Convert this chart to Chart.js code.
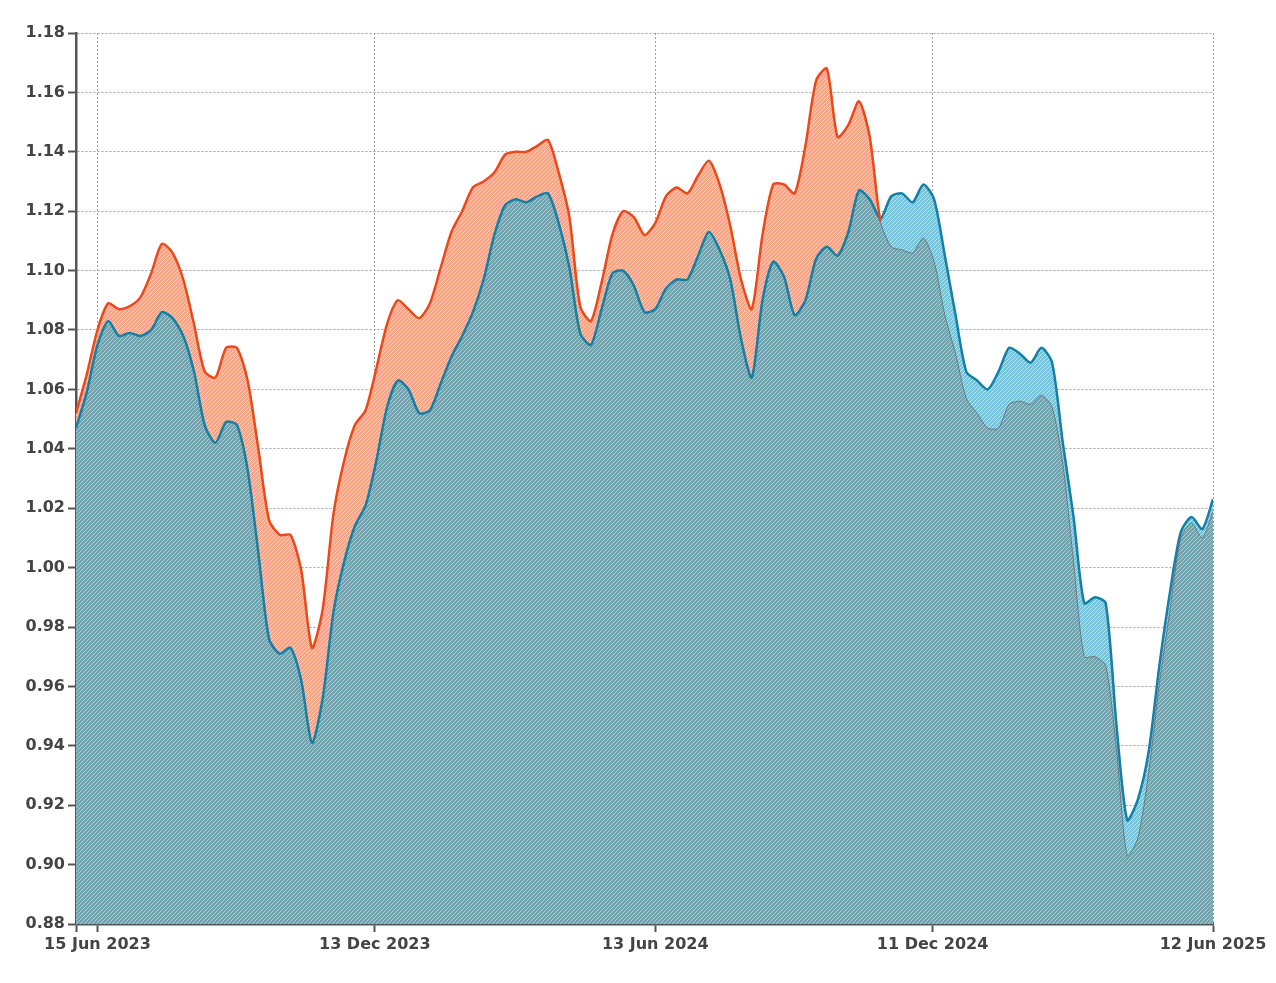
<!DOCTYPE html>
<html>
<head>
<meta charset="utf-8">
<script src="https://cdn.jsdelivr.net/npm/chart.js@4.4.1/dist/chart.umd.min.js"></script>
<style>
  body { margin: 0; background: #fff; }
  #wrap { width: 1276px; height: 983px; position: relative; }
</style>
</head>
<body>
<div id="wrap"><canvas id="myChart"></canvas></div>
<script>
// weekly points, first one on 1 Jun 2023
var startDate = '2023-06-01';
var stepDays = 7;

// orange series
var seriesA = [
  1.052, 1.065, 1.080, 1.089, 1.087, 1.088, 1.091, 1.099, 1.109, 1.106,
  1.097, 1.082, 1.066, 1.064, 1.074, 1.074, 1.063, 1.040, 1.016, 1.011,
  1.011, 0.999, 0.973, 0.986, 1.018, 1.036, 1.048, 1.053, 1.067, 1.082,
  1.090, 1.087, 1.084, 1.089, 1.101, 1.113, 1.120, 1.128, 1.130, 1.133,
  1.139, 1.140, 1.140, 1.142, 1.144, 1.133, 1.118, 1.088, 1.083, 1.096,
  1.112, 1.120, 1.118, 1.112, 1.116, 1.125, 1.128, 1.126, 1.132, 1.137,
  1.129, 1.115, 1.097, 1.087, 1.112, 1.129, 1.129, 1.126, 1.142, 1.164,
  1.168, 1.145, 1.149, 1.157, 1.145, 1.1165, 1.108, 1.107, 1.106, 1.111,
  1.103, 1.085, 1.072, 1.057, 1.052, 1.047, 1.047, 1.055, 1.056, 1.055,
  1.058, 1.054, 1.035, 1.002, 0.970, 0.970, 0.967, 0.939, 0.903, 0.909,
  0.931, 0.961, 0.986, 1.010, 1.015, 1.010, 1.019
];

// blue series
var seriesB = [
  1.047, 1.059, 1.075, 1.083, 1.078, 1.079, 1.078, 1.080, 1.086, 1.084,
  1.078, 1.066, 1.048, 1.042, 1.049, 1.048, 1.033, 1.005, 0.976, 0.971,
  0.973, 0.962, 0.941, 0.956, 0.985, 1.002, 1.014, 1.021, 1.036, 1.054,
  1.063, 1.060, 1.052, 1.053, 1.062, 1.071, 1.078, 1.086, 1.097, 1.112,
  1.122, 1.124, 1.123, 1.125, 1.126, 1.116, 1.101, 1.079, 1.075, 1.087,
  1.099, 1.100, 1.095, 1.086, 1.087, 1.094, 1.097, 1.097, 1.105, 1.113,
  1.107, 1.097, 1.077, 1.064, 1.090, 1.103, 1.098, 1.085, 1.090, 1.104,
  1.108, 1.105, 1.113, 1.127, 1.124, 1.1175, 1.125, 1.126, 1.123, 1.129,
  1.124, 1.105, 1.085, 1.066, 1.063, 1.060, 1.066, 1.074, 1.072, 1.069,
  1.074, 1.069, 1.042, 1.017, 0.988, 0.990, 0.988, 0.947, 0.915, 0.922,
  0.938, 0.967, 0.992, 1.012, 1.017, 1.013, 1.023
];

// x ticks (days after startDate) and their labels
var tickDays = [0, 14, 195, 378, 559, 742];
var tickLabels = ['', '15 Jun 2023', '13 Dec 2023', '13 Jun 2024', '11 Dec 2024', '12 Jun 2025'];

var yMin = 0.88, yMax = 1.18, yStep = 0.02;

var orange = '#e8491d';
var blue = '#177fa6';

function hatch(ctx, base, stripe) {
    var t = document.createElement('canvas');
    t.width = 4; t.height = 4;
    var c = t.getContext('2d');
    c.fillStyle = base;
    c.fillRect(0, 0, 4, 4);
    c.strokeStyle = stripe;
    c.lineWidth = 1;
    c.beginPath();
    c.moveTo(0, 4); c.lineTo(4, 0);
    c.moveTo(-1, 1); c.lineTo(1, -1);
    c.moveTo(3, 5); c.lineTo(5, 3);
    c.stroke();
    return ctx.createPattern(t, 'repeat');
}

var ctx = document.getElementById('myChart').getContext('2d');
var tealFill = hatch(ctx, '#72a3af', '#aacbd3');
var orangeFill = hatch(ctx, '#f4a689', '#fbd0c0');
var lightBlueFill = hatch(ctx, '#78c4dc', '#b8e2ee');

var ptsA = seriesA.map(function (v, i) { return {x: i * stepDays, y: v}; });
var ptsB = seriesB.map(function (v, i) { return {x: i * stepDays, y: v}; });

function aBelow(c) {
    var i = c.p0DataIndex, j = c.p1DataIndex;
    return seriesA[i] < seriesB[i] && seriesA[j] < seriesB[j];
}

var tickFont = {family: 'DejaVu Sans', size: 16, weight: 'bold'};

var chart = new Chart(ctx, {
    type: 'line',
    data: {
        datasets: [{
            label: 'A',
            data: ptsA,
            borderColor: orange,
            borderWidth: 2.5,
            pointRadius: 0,
            tension: 0.25,
            fill: {target: 1, above: orangeFill, below: lightBlueFill},
            segment: {
                borderColor: function (c) { return aBelow(c) ? 'rgba(105,105,105,0.8)' : orange; },
                borderWidth: function (c) { return aBelow(c) ? 1 : 2.5; }
            }
        }, {
            label: 'B',
            data: ptsB,
            borderColor: blue,
            borderWidth: 2.5,
            pointRadius: 0,
            tension: 0.25,
            fill: {target: 'start'},
            backgroundColor: tealFill
        }]
    },
    options: {
        responsive: true,
        maintainAspectRatio: false,
        animation: false,
        layout: { padding: {top: 33, right: 63, left: 0, bottom: 0} },
        plugins: {
            legend: { display: false },
            tooltip: { enabled: false },
            filler: { drawTime: 'beforeDatasetsDraw' }
        },
        scales: {
            x: {
                type: 'linear',
                min: 0,
                max: 742,
                afterBuildTicks: function (scale) {
                    scale.ticks = tickDays.map(function (d) { return {value: d}; });
                },
                afterFit: function (scale) { scale.height = 59; },
                ticks: {
                    autoSkip: false,
                    maxRotation: 0,
                    padding: 3,
                    color: '#444',
                    font: tickFont,
                    callback: function (v, i) { return tickLabels[i]; }
                },
                grid: { color: '#a0a0a0', lineWidth: 1, tickLength: 8, tickColor: '#555', tickWidth: 2 },
                border: { display: true, color: '#555', width: 2.5, dash: [2, 2] }
            },
            y: {
                min: yMin,
                max: yMax,
                afterFit: function (scale) { scale.width = 76; },
                ticks: {
                    stepSize: yStep,
                    padding: 3,
                    color: '#444',
                    font: tickFont,
                    callback: function (v) { return v.toFixed(2); }
                },
                grid: { color: '#a0a0a0', lineWidth: 1, tickLength: 8, tickColor: '#555', tickWidth: 2 },
                border: { display: true, color: '#555', width: 2.5, dash: [2, 2] }
            }
        }
    }
});
</script>
</body>
</html>
